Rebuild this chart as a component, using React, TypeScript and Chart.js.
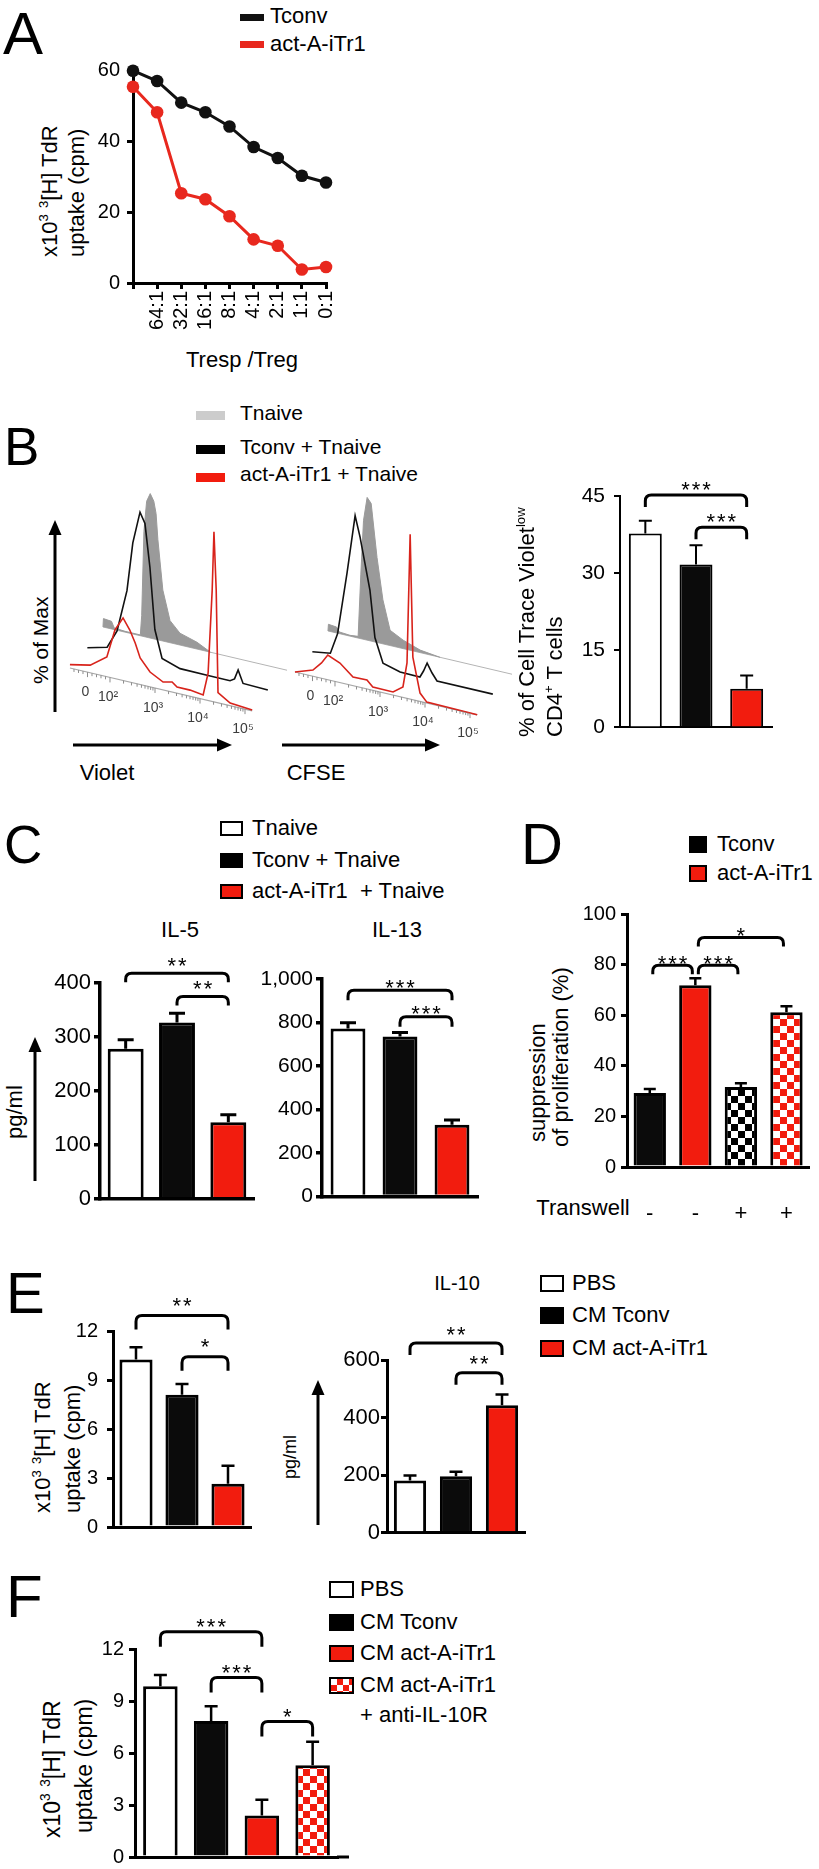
import React, { useEffect, useRef } from "react";
import { Chart, registerables } from "chart.js";

Chart.register(...registerables);

const FONT = "'Liberation Sans', Arial, Helvetica, sans-serif";
const RED = "#f21c0e";
const BLACK = "#0b0b0b";
const LINE_RED = "#e8281e";
const HIST_RED = "#d8231b";
const HIST_GREY = "#9a9a9a";

// ---------------- Panel A ----------------
const A_RATIOS = ["", "64:1", "32:1", "16:1", "8:1", "4:1", "2:1", "1:1", "0:1"];
const A_TCONV = [59.8, 56.9, 50.8, 48.1, 44.1, 38.3, 35.2, 30.2, 28.3];
const A_ITR1 = [55.3, 48.1, 25.3, 23.6, 18.8, 12.3, 10.5, 3.8, 4.5];
const A_Y_TICKS = ["0", "20", "40", "60"];

// ---------------- Panel B histograms: [log10 fluorescence, % of max] ----------------
const VIOLET_TNAIVE = [[1.11, 0], [1.12, 5], [1.3, 4.5], [1.36, 1], [1.6, 0.5], [1.94, 0.5], [1.97, 12], [2.02, 62], [2.08, 80], [2.16, 85], [2.24, 81], [2.29, 74], [2.33, 59], [2.44, 30], [2.6, 13], [2.82, 7], [3.2, 4], [3.5, 0]];
const VIOLET_TCONV = [[1.13, 0], [1.57, 3], [1.79, 14], [2.01, 39], [2.14, 68], [2.3, 87], [2.41, 81], [2.52, 56], [2.63, 20], [2.79, 4], [3.19, 0.5], [3.79, 0.3], [4.3, 0.3], [4.4, 2], [4.48, 7.7], [4.59, 0.5], [5.14, 0]];
const VIOLET_ITR1 = [[1.11, 2], [1.56, 4.5], [1.93, 11.6], [2.11, 28.6], [2.29, 36.8], [2.44, 30.6], [2.56, 23.7], [2.67, 15.6], [2.89, 8.7], [3.18, 4.6], [3.38, 5.9], [3.49, 3.6], [3.78, 3.6], [4.07, 2.5], [4.18, 16], [4.27, 65], [4.31, 100], [4.36, 66], [4.4, 6], [4.67, 1.5], [5.16, 0.5]];
const CFSE_TNAIVE = [[1.11, 0], [1.12, 4], [1.3, 3.5], [1.36, 1], [1.6, 0.5], [1.78, 1], [1.84, 38], [1.9, 70], [1.98, 84], [2.07, 81], [2.2, 50], [2.33, 26], [2.49, 9], [2.78, 5], [3.16, 1.5], [3.6, 0]];
const CFSE_TCONV = [[1.13, 0], [1.53, 1.6], [1.69, 14], [1.9, 51], [2.08, 86], [2.19, 74], [2.41, 44], [2.52, 17], [2.7, 3], [3.08, 0.2], [3.52, 0], [3.6, 4], [3.68, 9.2], [3.79, 4], [3.9, 0], [5.14, 0]];
const CFSE_ITR1 = [[1.11, 0], [1.51, 3.6], [1.7, 9], [1.84, 14.5], [2.11, 11.5], [2.4, 5.1], [2.71, 5.2], [2.84, 1.9], [3.29, 1.8], [3.51, 6.1], [3.6, 20.8], [3.67, 97], [3.73, 25], [3.89, 4.9], [4.04, 0.5], [5.16, 0]];
const HIST_TICK_LABELS = ["0", "10²", "10³", "10⁴", "10⁵"];
const HIST_TICK_POS = [1.5, 2, 3, 4, 5];
const HIST_LIN_MINOR = [1.2, 1.3, 1.4, 1.6, 1.7, 1.8, 1.9];

// ---------------- Panel B bars ----------------
const B_GROUPS = ["Tnaive", "Tconv + Tnaive", "act-A-iTr1 + Tnaive"];
const B_MEANS = [37.7, 31.7, 7.5];
const B_SEM = [2.5, 3.7, 2.6];
const B_Y_TICKS = ["0", "15", "30", "45"];
const B_SIG = [[0, 2, 45.2, "***"], [1, 2, 38.9, "***"]];

// ---------------- Panel C ----------------
const C_GROUPS = ["Tnaive", "Tconv + Tnaive", "act-A-iTr1 + Tnaive"];
const IL5_MEANS = [278, 327, 142];
const IL5_SEM = [17, 17, 14];
const IL5_Y_TICKS = ["0", "100", "200", "300", "400"];
const IL5_SIG = [[0, 2, 418, "**"], [1, 2, 375, "**"]];
const IL13_MEANS = [772, 736, 330];
const IL13_SEM = [27, 18, 22];
const IL13_Y_TICKS = ["0", "200", "400", "600", "800", "1,000"];
const IL13_SIG = [[0, 2, 948, "***"], [1, 2, 826, "***"]];

// ---------------- Panel D ----------------
const D_TRANSWELL = ["-", "-", "+", "+"];
const D_MEANS = [29.2, 71.8, 31.6, 61.2];
const D_SEM = [1.6, 2.8, 1.5, 2.3];
const D_Y_TICKS = ["0", "20", "40", "60", "80", "100"];
const D_SIG = [[0, 1, 79.7, "***"], [1, 2, 79.7, "***"], [1, 3, 90.7, "*"]];

// ---------------- Panel E ----------------
const E_GROUPS = ["PBS", "CM Tconv", "CM act-A-iTr1"];
const E_TDR_MEANS = [10.25, 8.1, 2.65];
const E_TDR_SEM = [0.75, 0.65, 1.1];
const E_TDR_Y_TICKS = ["0", "3", "6", "9", "12"];
const E_TDR_SIG = [[0, 2, 12.95, "**"], [1, 2, 10.43, "*"]];
const E_IL10_MEANS = [182, 196, 443];
const E_IL10_SEM = [17, 16, 37];
const E_IL10_Y_TICKS = ["0", "200", "400", "600"];
const E_IL10_SIG = [[0, 2, 659, "**"], [1, 2, 556, "**"]];

// ---------------- Panel F ----------------
const F_GROUPS = ["PBS", "CM Tconv", "CM act-A-iTr1", "CM act-A-iTr1 + anti-IL-10R"];
const F_MEANS = [9.85, 7.85, 2.4, 5.3];
const F_SEM = [0.65, 0.85, 0.9, 1.35];
const F_Y_TICKS = ["0", "3", "6", "9", "12"];
const F_SIG = [[0, 2, 13.0, "***"], [1, 2, 10.36, "***"], [2, 3, 7.82, "*"]];

// histogram offset-overlay geometry (in chart units)
const LX = 0.367;
const LY = 12.06;
const SK = 6.22;
const D0 = 1.111;

function checker(ctx: any, color: string, cell = 7) {
  const c = document.createElement("canvas");
  c.width = cell * 2;
  c.height = cell * 2;
  const g = c.getContext("2d")!;
  g.fillStyle = "#fff";
  g.fillRect(0, 0, cell * 2, cell * 2);
  g.fillStyle = color;
  g.fillRect(0, 0, cell, cell);
  g.fillRect(cell, cell, cell, cell);
  return ctx.createPattern(c, "repeat");
}

function ChartCanvas({ rect, space, make }: any) {
  const ref = useRef<HTMLCanvasElement>(null);
  const [x0, y0, x1, y1] = rect;
  const [l, t, r, b] = space;
  const w = x1 - x0 + l + r;
  const h = y1 - y0 + t + b;
  useEffect(() => {
    const c = ref.current!;
    const chart = new Chart(c, make(c.getContext("2d")));
    return () => chart.destroy();
  }, []);
  return (
    <canvas
      ref={ref}
      width={w}
      height={h}
      style={{ position: "absolute", left: x0 - l, top: y0 - t, width: w, height: h }}
    />
  );
}

function barConfig(s: any, ctx: any) {
  const st = s.style;
  const fills = s.fills(ctx);
  return {
    type: "bar",
    data: {
      labels: s.labels,
      datasets: [
        {
          data: s.values,
          backgroundColor: fills,
          borderColor: "#000",
          borderWidth: st.border,
          barPercentage: st.barPct,
          categoryPercentage: 1,
          borderSkipped: "start",
        },
      ],
    },
    options: {
      responsive: false,
      animation: false,
      devicePixelRatio: 1,
      events: [],
      layout: { padding: { left: 0, top: s.space[1], right: s.space[2], bottom: 0 } },
      plugins: { legend: { display: false }, tooltip: { enabled: false } },
      scales: {
        x: {
          offset: true,
          z: 1,
          grid: { display: false },
          border: { display: true, width: st.axis, color: "#000" },
          ticks: {
            display: !!s.showX,
            color: "#000",
            font: { family: FONT, size: st.xFont || 22 },
            padding: st.xPad || 0,
            maxRotation: 0,
            minRotation: 0,
            autoSkip: false,
          },
          afterFit: (sc: any) => {
            sc.height = s.space[3];
          },
        },
        y: {
          min: 0,
          max: s.yMax,
          z: 1,
          grid: { display: true, drawOnChartArea: false, drawTicks: true, tickLength: 6, lineWidth: st.axis, color: "#000" },
          border: { display: true, width: st.axis, color: "#000" },
          ticks: {
            stepSize: s.step,
            color: "#000",
            font: { family: FONT, size: st.tick },
            padding: st.pad,
            callback: (_v: any, i: number) => s.yTicks[i],
          },
          afterFit: (sc: any) => {
            sc.width = s.space[0];
          },
        },
      },
    },
    plugins: [
      {
        id: "errorBars",
        afterDatasetsDraw(chart: any) {
          const c = chart.ctx;
          const ys = chart.scales.y;
          const meta = chart.getDatasetMeta(0);
          c.save();
          c.strokeStyle = "#000";
          c.lineWidth = st.err;
          meta.data.forEach((el: any, i: number) => {
            const top = ys.getPixelForValue(s.values[i] + s.errors[i]);
            c.beginPath();
            c.moveTo(el.x, el.y);
            c.lineTo(el.x, top);
            c.moveTo(el.x - st.cap / 2, top);
            c.lineTo(el.x + st.cap / 2, top);
            c.stroke();
          });
          if (st.extend) {
            const a = chart.chartArea;
            c.lineWidth = st.axis;
            c.beginPath();
            c.moveTo(a.right - 1, a.bottom);
            c.lineTo(a.right + st.extend, a.bottom);
            c.stroke();
          }
          c.restore();
        },
        afterDraw(chart: any) {
          const c = chart.ctx;
          const xs = chart.scales.x;
          const ys = chart.scales.y;
          c.save();
          c.strokeStyle = "#000";
          c.fillStyle = "#000";
          c.lineWidth = 3;
          c.lineJoin = "round";
          const inset = st.inset || 0;
          s.brackets.forEach(([a, b, yv, label]: any) => {
            const xa = xs.getPixelForValue(a) + inset;
            const xb = xs.getPixelForValue(b) - inset;
            const y = ys.getPixelForValue(yv);
            const r = 6;
            c.beginPath();
            c.moveTo(xa, y + st.drop);
            c.lineTo(xa, y + r);
            c.quadraticCurveTo(xa, y, xa + r, y);
            c.lineTo(xb - r, y);
            c.quadraticCurveTo(xb, y, xb, y + r);
            c.lineTo(xb, y + st.drop);
            c.stroke();
            c.font = `22px ${FONT}`;
            c.textAlign = "center";
            c.textBaseline = "alphabetic";
            try {
              c.letterSpacing = "2px";
            } catch (e) {}
            c.fillText(label, (xa + xb) / 2 + 1, y - st.gap + 12.6);
            try {
              c.letterSpacing = "0px";
            } catch (e) {}
          });
          c.restore();
        },
      },
    ],
  };
}

function BarChart({ spec }: any) {
  return <ChartCanvas rect={spec.rect} space={spec.space} make={(ctx: any) => barConfig(spec, ctx)} />;
}

const histTicks = {
  id: "histTicks",
  afterDatasetsDraw(chart: any) {
    const c = chart.ctx;
    const { x, y } = chart.scales;
    const at = (d: number) => [x.getPixelForValue(d), y.getPixelForValue(-SK * (d - D0))];
    c.save();
    c.strokeStyle = "#8c8c8c";
    c.lineWidth = 1;
    const minor: number[] = [...HIST_LIN_MINOR];
    for (let dec = 2; dec <= 4; dec++) for (let m = 2; m <= 9; m++) minor.push(dec + Math.log10(m));
    minor.forEach((d) => {
      const [px, py] = at(d);
      c.beginPath();
      c.moveTo(px, py);
      c.lineTo(px, py + 3);
      c.stroke();
    });
    HIST_TICK_POS.forEach((d) => {
      const [px, py] = at(d);
      c.beginPath();
      c.moveTo(px, py);
      c.lineTo(px, py + 5);
      c.stroke();
    });
    c.fillStyle = "#3c3c3c";
    c.font = `14px ${FONT}`;
    c.textAlign = "center";
    c.textBaseline = "middle";
    HIST_TICK_LABELS.forEach((t, i) => {
      const [px, py] = at(HIST_TICK_POS[i]);
      c.fillText(t, px - 2, py + 20);
    });
    c.restore();
  },
};

function histConfig(tn: number[][], tc: number[][], it: number[][]) {
  const tf = (pts: number[][], k: number) =>
    pts.map(([d, p]) => ({ x: d + LX * k, y: p + LY * k - SK * (d - D0) }));
  const common = { showLine: true, pointRadius: 0, tension: 0, fill: false };
  return {
    type: "scatter",
    data: {
      datasets: [
        { ...common, data: tf(it, 0), borderColor: HIST_RED, borderWidth: 1.6 },
        { ...common, data: tf(tc, 1), borderColor: "#111", borderWidth: 1.6 },
        { ...common, data: tf(tn, 2), borderColor: HIST_GREY, borderWidth: 1, backgroundColor: HIST_GREY, fill: "shape" },
        { ...common, data: tf([[1.11, 0], [5.2, 0]], 2), borderColor: "#b4b4b4", borderWidth: 1 },
        { ...common, data: tf([[1.11, 0], [5.16, 0]], 0), borderColor: "#a8a8a8", borderWidth: 1.2 },
      ],
    },
    options: {
      responsive: false,
      animation: false,
      devicePixelRatio: 1,
      events: [],
      layout: { padding: 0 },
      plugins: { legend: { display: false }, tooltip: { enabled: false } },
      scales: {
        x: { type: "linear", display: false, min: 0.889, max: 6.222 },
        y: { type: "linear", display: false, min: -45.3, max: 110.6 },
      },
    },
    plugins: [histTicks],
  };
}

function lineConfig() {
  const ds = (data: number[], color: string) => ({
    data,
    borderColor: color,
    backgroundColor: color,
    pointBackgroundColor: color,
    pointBorderColor: color,
    borderWidth: 3,
    pointRadius: 6.3,
    pointBorderWidth: 0,
    tension: 0,
    clip: false,
  });
  return {
    type: "line",
    data: { labels: A_RATIOS, datasets: [ds(A_TCONV, "#111"), ds(A_ITR1, LINE_RED)] },
    options: {
      responsive: false,
      animation: false,
      devicePixelRatio: 1,
      events: [],
      layout: { padding: { left: 0, top: 12, right: 14, bottom: 0 } },
      plugins: { legend: { display: false }, tooltip: { enabled: false } },
      scales: {
        x: {
          offset: false,
          grid: { display: true, drawOnChartArea: false, drawTicks: true, tickLength: 6, lineWidth: 3, color: "#000" },
          border: { display: true, width: 3, color: "#000" },
          ticks: { color: "#000", font: { family: FONT, size: 20 }, padding: 2, maxRotation: 90, minRotation: 90, autoSkip: false },
          afterFit: (sc: any) => {
            sc.height = 60;
          },
        },
        y: {
          min: 0,
          max: 60,
          grid: { display: true, drawOnChartArea: false, drawTicks: true, tickLength: 6, lineWidth: 3, color: "#000" },
          border: { display: true, width: 3, color: "#000" },
          ticks: { stepSize: 20, color: "#000", font: { family: FONT, size: 20 }, padding: 7, callback: (_v: any, i: number) => A_Y_TICKS[i] },
          afterFit: (sc: any) => {
            sc.width = 45;
          },
        },
      },
    },
  };
}

// ---------- specs ----------
const B_SPEC = {
  rect: [620, 496, 772, 737], space: [45, 45, 10, 12],
  labels: B_GROUPS, values: B_MEANS, errors: B_SEM, fills: () => ["#ffffff", BLACK, RED],
  brackets: B_SIG, yMax: 45, step: 15, yTicks: B_Y_TICKS,
  style: { tick: 21, pad: 9, axis: 2, border: 2, barPct: 0.65, err: 2, cap: 13, drop: 12, gap: 11 },
};
const IL5_SPEC = {
  rect: [100, 983, 254, 1203], space: [62, 62, 10, 12],
  labels: C_GROUPS, values: IL5_MEANS, errors: IL5_SEM, fills: () => ["#ffffff", BLACK, RED],
  brackets: IL5_SIG, yMax: 400, step: 100, yTicks: IL5_Y_TICKS,
  style: { tick: 22, pad: 3, axis: 3.5, border: 3, barPct: 0.7, err: 3, cap: 16, drop: 9, gap: 13 },
};
const IL13_SPEC = {
  rect: [322, 979, 478, 1200], space: [72, 55, 10, 12],
  labels: C_GROUPS, values: IL13_MEANS, errors: IL13_SEM, fills: () => ["#ffffff", BLACK, RED],
  brackets: IL13_SIG, yMax: 1000, step: 200, yTicks: IL13_Y_TICKS,
  style: { tick: 21, pad: 3, axis: 3.5, border: 3, barPct: 0.67, err: 3, cap: 16, drop: 10, gap: 8 },
};
const D_SPEC = {
  rect: [627, 914, 818, 1167], space: [50, 42, 1, 55], showX: true,
  labels: D_TRANSWELL, values: D_MEANS, errors: D_SEM,
  fills: (ctx: any) => [BLACK, RED, checker(ctx, "#000"), checker(ctx, RED)],
  brackets: D_SIG, yMax: 100, step: 20, yTicks: D_Y_TICKS,
  style: { tick: 20, pad: 5, axis: 3, border: 3, barPct: 0.71, err: 2.5, cap: 12, drop: 9, gap: 7, xPad: 26, xFont: 22, inset: 3 },
};
const E_TDR_SPEC = {
  rect: [113, 1331, 251, 1536], space: [42, 50, 10, 12],
  labels: E_GROUPS, values: E_TDR_MEANS, errors: E_TDR_SEM, fills: () => ["#ffffff", BLACK, RED],
  brackets: E_TDR_SIG, yMax: 12, step: 3, yTicks: E_TDR_Y_TICKS,
  style: { tick: 20, pad: 9, axis: 3, border: 3, barPct: 0.72, err: 2.5, cap: 13, drop: 14, gap: 15 },
};
const E_IL10_SPEC = {
  rect: [387, 1360, 525, 1535], space: [52, 45, 10, 12],
  labels: E_GROUPS, values: E_IL10_MEANS, errors: E_IL10_SEM, fills: () => ["#ffffff", BLACK, RED],
  brackets: E_IL10_SIG, yMax: 600, step: 200, yTicks: E_IL10_Y_TICKS,
  style: { tick: 22, pad: 1, axis: 3, border: 3, barPct: 0.7, err: 2.5, cap: 13, drop: 12, gap: 14 },
};
const F_SPEC = {
  rect: [135, 1649, 338, 1862], space: [42, 48, 16, 12],
  labels: F_GROUPS, values: F_MEANS, errors: F_SEM,
  fills: (ctx: any) => ["#ffffff", BLACK, RED, checker(ctx, RED)],
  brackets: F_SIG, yMax: 12, step: 3, yTicks: F_Y_TICKS,
  style: { tick: 20, pad: 5, axis: 3, border: 3, barPct: 0.68, err: 2.5, cap: 13, drop: 15, gap: 10, extend: 11 },
};

// ---------- text helpers ----------
function Txt({ x, cy, size, children, center }: any) {
  return (
    <div
      style={{
        position: "absolute",
        left: x,
        top: cy - size / 2,
        fontSize: size,
        lineHeight: `${size}px`,
        whiteSpace: "pre",
        transform: center ? "translateX(-50%)" : undefined,
      }}
    >
      {children}
    </div>
  );
}

function VTxt({ cx, yb, size, children }: any) {
  return (
    <div
      style={{
        position: "absolute",
        left: cx,
        top: yb,
        fontSize: size,
        lineHeight: `${size}px`,
        whiteSpace: "pre",
        transformOrigin: "0 0",
        transform: "rotate(-90deg) translateY(-50%)",
      }}
    >
      {children}
    </div>
  );
}

function Letter({ x, capTop, size, ch }: any) {
  return (
    <div style={{ position: "absolute", left: x, top: capTop - 0.13 * size, fontSize: size, lineHeight: `${size}px` }}>
      {ch}
    </div>
  );
}

function Sw({ x, y, w, h, bg, border }: any) {
  return (
    <div
      style={{
        position: "absolute",
        left: x,
        top: y,
        width: w,
        height: h,
        background: bg,
        border: border ? "2.5px solid #000" : undefined,
        boxSizing: "border-box",
      }}
    />
  );
}

const Sup = ({ children }: any) => (
  <sup style={{ fontSize: "0.6em", verticalAlign: "0.7em", lineHeight: 0 }}>{children}</sup>
);

function Arrow({ x1, y1, x2, y2 }: any) {
  const dx = x2 - x1;
  const dy = y2 - y1;
  const L = Math.hypot(dx, dy);
  const ux = dx / L;
  const uy = dy / L;
  const hl = 15;
  const hw = 6.5;
  const bx = x2 - ux * hl;
  const by = y2 - uy * hl;
  const pts = `${x2},${y2} ${bx - uy * hw},${by + ux * hw} ${bx + uy * hw},${by - ux * hw}`;
  return (
    <g>
      <line x1={x1} y1={y1} x2={bx} y2={by} stroke="#000" strokeWidth={3} />
      <polygon points={pts} fill="#000" />
    </g>
  );
}

const CHECK_RED_CSS = `repeating-conic-gradient(${RED} 0% 25%, #ffffff 0% 50%) 0 0 / 12px 12px`;

export default function App() {
  const tdr = (
    <>
      x10<Sup>3</Sup> <Sup>3</Sup>[H] TdR
    </>
  );
  return (
    <div
      style={{
        position: "absolute",
        left: 0,
        top: 0,
        width: 819,
        height: 1869,
        overflow: "hidden",
        background: "#fff",
        fontFamily: FONT,
        color: "#000",
      }}
    >
      {/* ---------- A ---------- */}
      <Letter x={3} capTop={12} size={60} ch="A" />
      <Sw x={240} y={13.5} w={24} h={7} bg="#111" />
      <Txt x={270} cy={16} size={22}>Tconv</Txt>
      <Sw x={240} y={40.5} w={24} h={7} bg={LINE_RED} />
      <Txt x={270} cy={44} size={22}>act-A-iTr1</Txt>
      <VTxt cx={50} yb={257} size={22}>{tdr}</VTxt>
      <VTxt cx={77} yb={257} size={22}>uptake (cpm)</VTxt>
      <Txt x={242} cy={360} size={22} center>Tresp /Treg</Txt>
      <ChartCanvas rect={[133, 63, 338, 283]} space={[45, 12, 14, 60]} make={() => lineConfig()} />

      {/* ---------- B ---------- */}
      <Letter x={4} capTop={427} size={53} ch="B" />
      <Sw x={196} y={411} w={29} h={9} bg="#cccccc" />
      <Txt x={240} cy={412} size={21}>Tnaive</Txt>
      <Sw x={196} y={444.5} w={29} h={9} bg="#000" />
      <Txt x={240} cy={446} size={21}>Tconv + Tnaive</Txt>
      <Sw x={196} y={472.5} w={29} h={9} bg={RED} />
      <Txt x={240} cy={473} size={21}>act-A-iTr1 + Tnaive</Txt>
      <VTxt cx={40} yb={684} size={21}>% of Max</VTxt>
      <Txt x={107} cy={773} size={22} center>Violet</Txt>
      <Txt x={316} cy={773} size={22} center>CFSE</Txt>
      <ChartCanvas rect={[60, 480, 300, 745]} space={[0, 0, 0, 0]} make={() => histConfig(VIOLET_TNAIVE, VIOLET_TCONV, VIOLET_ITR1)} />
      <ChartCanvas rect={[285, 484, 525, 749]} space={[0, 0, 0, 0]} make={() => histConfig(CFSE_TNAIVE, CFSE_TCONV, CFSE_ITR1)} />
      <VTxt cx={527} yb={737} size={22}>
        % of Cell Trace Violet<Sup>low</Sup>
      </VTxt>
      <VTxt cx={555} yb={737} size={22}>
        CD4<Sup>+</Sup> T cells
      </VTxt>
      <BarChart spec={B_SPEC} />

      {/* ---------- C ---------- */}
      <Letter x={4} capTop={825} size={53} ch="C" />
      <Sw x={220} y={820.5} w={23} h={15} bg="#fff" border />
      <Txt x={252} cy={828} size={22}>Tnaive</Txt>
      <Sw x={220} y={852.5} w={23} h={15} bg="#000" border />
      <Txt x={252} cy={860} size={22}>Tconv + Tnaive</Txt>
      <Sw x={220} y={883.5} w={23} h={15} bg={RED} border />
      <Txt x={252} cy={891} size={22}>act-A-iTr1  + Tnaive</Txt>
      <Txt x={180} cy={930} size={22} center>IL-5</Txt>
      <Txt x={397} cy={930} size={22} center>IL-13</Txt>
      <VTxt cx={15} yb={1139} size={22}>pg/ml</VTxt>
      <BarChart spec={IL5_SPEC} />
      <BarChart spec={IL13_SPEC} />

      {/* ---------- D ---------- */}
      <Letter x={521} capTop={823} size={58} ch="D" />
      <Sw x={689} y={835.5} w={18} h={17} bg="#000" border />
      <Txt x={717} cy={844} size={22}>Tconv</Txt>
      <Sw x={689} y={864.5} w={18} h={17} bg={RED} border />
      <Txt x={717} cy={873} size={22}>act-A-iTr1</Txt>
      <VTxt cx={538} yb={1142} size={22}>suppression</VTxt>
      <VTxt cx={561} yb={1147} size={22}>of proliferation (%)</VTxt>
      <Txt x={583} cy={1208} size={22} center>Transwell</Txt>
      <BarChart spec={D_SPEC} />

      {/* ---------- E ---------- */}
      <Letter x={6} capTop={1272} size={58} ch="E" />
      <VTxt cx={43} yb={1513} size={22}>{tdr}</VTxt>
      <VTxt cx={73} yb={1513} size={22}>uptake (cpm)</VTxt>
      <BarChart spec={E_TDR_SPEC} />
      <VTxt cx={290} yb={1479} size={18}>pg/ml</VTxt>
      <Txt x={457} cy={1283} size={20} center>IL-10</Txt>
      <BarChart spec={E_IL10_SPEC} />
      <Sw x={540} y={1275} w={24} h={17} bg="#fff" border />
      <Txt x={572} cy={1283} size={22}>PBS</Txt>
      <Sw x={540} y={1307} w={24} h={17} bg="#000" border />
      <Txt x={572} cy={1315} size={22}>CM Tconv</Txt>
      <Sw x={540} y={1340} w={24} h={17} bg={RED} border />
      <Txt x={572} cy={1348} size={22}>CM act-A-iTr1</Txt>

      {/* ---------- F ---------- */}
      <Letter x={6} capTop={1575} size={60} ch="F" />
      <Sw x={329} y={1581} w={25} h={17} bg="#fff" border />
      <Txt x={360} cy={1589} size={22}>PBS</Txt>
      <Sw x={329} y={1614} w={25} h={17} bg="#000" border />
      <Txt x={360} cy={1622} size={22}>CM Tconv</Txt>
      <Sw x={329} y={1645} w={25} h={17} bg={RED} border />
      <Txt x={360} cy={1653} size={22}>CM act-A-iTr1</Txt>
      <Sw x={329} y={1677} w={25} h={17} bg={CHECK_RED_CSS} border />
      <Txt x={360} cy={1685} size={22}>CM act-A-iTr1</Txt>
      <Txt x={360} cy={1715} size={22}>+ anti-IL-10R</Txt>
      <VTxt cx={52} yb={1838} size={23}>{tdr}</VTxt>
      <VTxt cx={84} yb={1833} size={23}>uptake (cpm)</VTxt>
      <BarChart spec={F_SPEC} />

      {/* ---------- arrows ---------- */}
      <svg width={819} height={1869} style={{ position: "absolute", left: 0, top: 0, pointerEvents: "none" }}>
        <Arrow x1={55} y1={712} x2={55} y2={520} />
        <Arrow x1={73} y1={745} x2={232} y2={745} />
        <Arrow x1={282} y1={745} x2={440} y2={745} />
        <Arrow x1={35} y1={1181} x2={35} y2={1037} />
        <Arrow x1={318} y1={1525} x2={318} y2={1380} />
      </svg>
    </div>
  );
}
